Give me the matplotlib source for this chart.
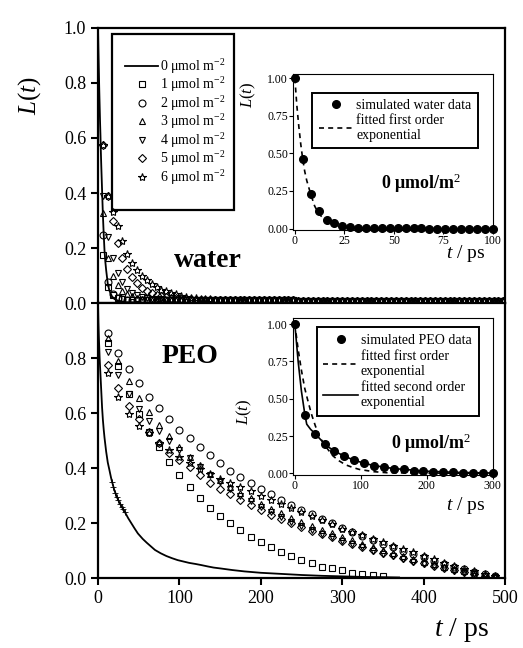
import numpy as np
import matplotlib
matplotlib.use('Agg')
import matplotlib.pyplot as plt
from matplotlib.patches import Rectangle

plt.rcParams['font.family'] = ['Liberation Serif', 'DejaVu Serif']
plt.rcParams['mathtext.fontset'] = 'custom'
plt.rcParams['mathtext.rm'] = 'Liberation Serif'
plt.rcParams['mathtext.it'] = 'Liberation Serif:italic'
plt.rcParams['mathtext.bf'] = 'Liberation Serif:bold'

# ---------------- data ----------------
labels = ['0 μmol m$^{-2}$', '1 μmol m$^{-2}$', '2 μmol m$^{-2}$', '3 μmol m$^{-2}$',
          '4 μmol m$^{-2}$', '5 μmol m$^{-2}$', '6 μmol m$^{-2}$']
markers = ['s', 'o', '^', 'v', 'D', '*']
msizes = [4.5, 5, 5, 5, 4.2, 6]

# water, 0 umol (solid line)
water0_t = [0, 0.5, 1, 1.5, 2, 2.5, 3, 3.5, 4, 5, 6, 7, 8, 9, 10, 12, 14, 17, 20,
            25, 35, 60, 150, 500]
water0_L = [1.0, 0.92, 0.85, 0.78, 0.72, 0.66, 0.61, 0.55, 0.50, 0.41, 0.32, 0.25,
            0.19, 0.15, 0.12, 0.07, 0.045, 0.025, 0.015, 0.008, 0.003, 0.001, 0.0, 0.0]

# water, 1-6 umol (markers every 6 ps)
water_t = np.arange(6, 500, 6)
water_base = [
    0.010, 0.010, 0.010, 0.010, 0.010, 0.010, 0.010, 0.010, 0.010, 0.010,
    0.010, 0.010, 0.010, 0.010, 0.010, 0.010, 0.010, 0.010, 0.010, 0.010,
    0.010, 0.010, 0.010, 0.010, 0.010, 0.010, 0.010, 0.010, 0.010, 0.010,
    0.010, 0.010, 0.010, 0.010, 0.010, 0.010, 0.010, 0.010, 0.010, 0.010,
    0.009, 0.009, 0.009, 0.009, 0.009, 0.009, 0.009, 0.009, 0.009, 0.009,
    0.009, 0.009, 0.009, 0.009, 0.009, 0.009, 0.009, 0.009, 0.009, 0.009,
    0.008, 0.008, 0.008, 0.008, 0.008, 0.008, 0.008, 0.008, 0.008, 0.008,
    0.008, 0.008, 0.008, 0.008, 0.008, 0.008, 0.008, 0.008, 0.008, 0.008,
    0.008, 0.008, 0.008]
water_heads = [
    [0.175, 0.060, 0.030, 0.018, 0.013, 0.011],
    [0.248, 0.077, 0.032, 0.018, 0.013, 0.011],
    [0.326, 0.165, 0.100, 0.065, 0.045, 0.032, 0.024, 0.019, 0.016, 0.014, 0.012, 0.011],
    [0.390, 0.240, 0.165, 0.110, 0.075, 0.052, 0.038, 0.029, 0.023, 0.019, 0.016,
     0.014, 0.013, 0.012, 0.011],
    [0.575, 0.390, 0.300, 0.220, 0.165, 0.125, 0.095, 0.072, 0.056, 0.045, 0.037,
     0.030, 0.026, 0.022, 0.019, 0.017, 0.015, 0.014, 0.013, 0.012, 0.011],
    [0.575, 0.390, 0.330, 0.280, 0.225, 0.180, 0.145, 0.120, 0.100, 0.084, 0.070,
     0.058, 0.049, 0.042, 0.036, 0.031, 0.027, 0.023, 0.020, 0.018, 0.016, 0.014,
     0.013, 0.012, 0.011],
]

# PEO, 0 umol (solid line)
peo0_t = [0, 0.5, 1, 1.5, 2, 3, 4, 5, 6, 7, 8, 9, 10, 12, 14, 16, 18, 20, 23, 26,
          30, 33, 37, 41, 45, 49, 55, 60, 65, 70, 77, 84, 91, 98, 105, 112, 120,
          127, 135, 142, 150, 165, 180, 200, 225, 250, 275, 300, 325, 350, 370]
peo0_L = [1.0, 0.93, 0.88, 0.84, 0.80, 0.74, 0.68, 0.62, 0.575, 0.54, 0.51, 0.485,
          0.46, 0.42, 0.393, 0.365, 0.342, 0.32, 0.296, 0.276, 0.255, 0.24, 0.218,
          0.199, 0.18, 0.162, 0.142, 0.128, 0.115, 0.102, 0.09, 0.08, 0.072, 0.065,
          0.06, 0.055, 0.051, 0.047, 0.042, 0.038, 0.035, 0.029, 0.024, 0.019,
          0.015, 0.011, 0.008, 0.006, 0.004, 0.003, 0.002]
# noisy stretch drawn with small crosses on the 0 umol PEO curve
peo0_mark_t = [17, 19, 21, 23, 25, 27, 29, 31, 33]
peo0_mark_L = [0.35, 0.33, 0.31, 0.296, 0.283, 0.27, 0.26, 0.25, 0.24]

# PEO, 1-6 umol (markers every 12.5 ps)
peo_t = np.arange(1, 40) * 12.5
peo1 = [0.856, 0.77, 0.67, 0.596, 0.53, 0.475, 0.423, 0.375, 0.332, 0.292,
        0.256, 0.227, 0.199, 0.175, 0.15, 0.131, 0.114, 0.096, 0.08, 0.065,
        0.053, 0.041, 0.035, 0.028, 0.018, 0.013, 0.01, 0.007]
peo2 = [0.89, 0.82, 0.76, 0.708, 0.66, 0.617, 0.577, 0.54, 0.508, 0.476,
        0.447, 0.418, 0.39, 0.367, 0.345, 0.325, 0.305, 0.285, 0.266, 0.248,
        0.231, 0.215, 0.199, 0.183, 0.168, 0.153, 0.139, 0.125, 0.112, 0.099,
        0.087, 0.075, 0.063, 0.052, 0.041, 0.031, 0.022, 0.013, 0.006]
peo3 = [0.872, 0.79, 0.715, 0.655, 0.605, 0.555, 0.515, 0.475, 0.44, 0.41,
        0.38, 0.355, 0.33, 0.31, 0.29, 0.27, 0.25, 0.235, 0.22, 0.205,
        0.19, 0.175, 0.162, 0.15, 0.137, 0.125, 0.113, 0.102, 0.091, 0.08,
        0.07, 0.06, 0.05, 0.041, 0.032, 0.024, 0.016, 0.009, 0.004]
peo4 = [0.823, 0.738, 0.67, 0.615, 0.57, 0.535, 0.50, 0.465, 0.435, 0.405,
        0.375, 0.35, 0.325, 0.30, 0.28, 0.26, 0.24, 0.222, 0.205, 0.19,
        0.175, 0.161, 0.148, 0.135, 0.123, 0.111, 0.10, 0.089, 0.079, 0.069,
        0.06, 0.051, 0.043, 0.035, 0.027, 0.02, 0.013, 0.008, 0.004]
peo5 = [0.775, 0.69, 0.625, 0.577, 0.53, 0.49, 0.455, 0.43, 0.405, 0.375,
        0.345, 0.325, 0.305, 0.285, 0.265, 0.247, 0.23, 0.215, 0.20, 0.185,
        0.172, 0.16, 0.148, 0.136, 0.125, 0.113, 0.102, 0.092, 0.082, 0.072,
        0.062, 0.053, 0.044, 0.036, 0.028, 0.021, 0.014, 0.008, 0.004]
peo6 = [0.744, 0.657, 0.595, 0.553, 0.526, 0.492, 0.465, 0.441, 0.417, 0.398,
        0.38, 0.36, 0.345, 0.33, 0.315, 0.30, 0.285, 0.27, 0.255, 0.24,
        0.225, 0.21, 0.195, 0.18, 0.168, 0.155, 0.142, 0.13, 0.118, 0.105,
        0.093, 0.08, 0.068, 0.056, 0.045, 0.034, 0.024, 0.015, 0.008]
peo_series = [peo1, peo2, peo3, peo4, peo5, peo6]

# insets, 0 umol
win_t = np.arange(0, 101, 4)
win_L = [1.0, 0.46, 0.23, 0.115, 0.06, 0.035, 0.015, 0.007, 0.004, 0.003, 0.002,
         0.002, 0.001, 0.001, 0.001, 0.001, 0.001, 0.0, 0.0, 0.0, 0.0, 0.0, 0.0,
         0.0, 0.0, 0.0]
win_fit_t = [0, 1, 2, 3, 4, 5, 6, 8, 10, 12, 15, 20, 25, 30, 40, 100]
win_fit_L = [1.0, 0.82, 0.68, 0.56, 0.46, 0.38, 0.32, 0.23, 0.15, 0.10, 0.06, 0.025,
             0.01, 0.004, 0.001, 0.0]

pin_t = np.arange(0, 301, 15)
pin_L = [1.0, 0.39, 0.265, 0.198, 0.149, 0.116, 0.089, 0.069, 0.053, 0.042, 0.033,
         0.027, 0.02, 0.016, 0.012, 0.01, 0.008, 0.006, 0.005, 0.004, 0.003]
pin_fit1_t = [0, 5, 10, 15, 19, 25, 31, 37, 45, 58, 67, 77, 88, 98, 120, 140, 300]
pin_fit1_L = [1.0, 0.83, 0.69, 0.57, 0.50, 0.40, 0.32, 0.25, 0.19, 0.117, 0.085,
              0.058, 0.04, 0.027, 0.012, 0.005, 0.0]
pin_fit2_t = [0, 5, 10, 15, 18, 24, 30, 38, 45, 52, 60, 75, 90, 105, 120, 150, 200,
              250, 300]
pin_fit2_L = [1.0, 0.75, 0.55, 0.40, 0.33, 0.295, 0.27, 0.232, 0.20, 0.174, 0.15,
              0.116, 0.089, 0.069, 0.053, 0.033, 0.015, 0.007, 0.003]

# ---------------- figure ----------------
fig = plt.figure(figsize=(5.23, 6.48), dpi=100)
ax_w = fig.add_axes([0.1874, 0.5324, 0.778, 0.4244])
ax_p = fig.add_axes([0.1874, 0.108, 0.778, 0.4244])

for ax in (ax_w, ax_p):
    ax.set_xlim(0, 500)
    ax.set_ylim(0, 1.0)
    for s in ax.spines.values():
        s.set_linewidth(1.6)
    ax.tick_params(direction='out', length=5, width=1.5, labelsize=13,
                   top=False, right=False)

ax_w.set_yticks([0.0, 0.2, 0.4, 0.6, 0.8, 1.0])
ax_w.set_yticklabels(['0.0', '0.2', '0.4', '0.6', '0.8', '1.0'])
ax_w.tick_params(axis='x', bottom=False, labelbottom=False)
ax_p.set_yticks([0.0, 0.2, 0.4, 0.6, 0.8])
ax_p.set_yticklabels(['0.0', '0.2', '0.4', '0.6', '0.8'])
ax_p.set_xticks([0, 100, 200, 300, 400, 500])

handles = []
h, = ax_w.plot(water0_t, water0_L, color='black', lw=1.3)
handles.append(h)
for head, m, ms in zip(water_heads, markers, msizes):
    vals = head + water_base[len(head):]
    h, = ax_w.plot(water_t, vals, ls='none', marker=m, ms=ms, mfc='none',
                   mec='black', mew=0.8)
    handles.append(h)

ax_p.plot(peo0_t, peo0_L, color='black', lw=1.3)
ax_p.plot(peo0_mark_t, peo0_mark_L, ls='none', marker='+', ms=5, mew=0.6,
          color='black')
for vals, m, ms in zip(peo_series, markers, msizes):
    ax_p.plot(peo_t[:len(vals)], vals, ls='none', marker=m, ms=ms, mfc='none',
              mec='black', mew=0.8)

leg = ax_w.legend(handles, labels, loc='upper left', bbox_to_anchor=(0.066, 0.895),
                  frameon=False, fontsize=10, borderpad=0, borderaxespad=0,
                  handlelength=2.4, handletextpad=0.15, labelspacing=-0.03)
ax_w.add_patch(Rectangle((0.034, 0.338), 0.30, 0.64, transform=ax_w.transAxes,
                         fill=False, lw=1.6, ec='black', zorder=5))

ax_w.text(0.27, 0.156, 'water', transform=ax_w.transAxes, fontsize=20,
          fontweight='bold', ha='center', va='center')
ax_p.text(0.226, 0.804, 'PEO', transform=ax_p.transAxes, fontsize=20,
          fontweight='bold', ha='center', va='center')

fig.text(0.057, 0.853, r'$L(t)$', rotation=90, fontsize=18, ha='center', va='center')
fig.text(0.883, 0.028, r'$t$ / ps', fontsize=20, ha='center', va='center')

# ---------------- insets ----------------
in_w = fig.add_axes([0.560, 0.645, 0.382, 0.241])
in_p = fig.add_axes([0.560, 0.267, 0.382, 0.242])
for ax in (in_w, in_p):
    for s in ax.spines.values():
        s.set_linewidth(0.8)
    ax.tick_params(direction='out', length=3, width=0.8, labelsize=8.5, pad=0.5)
    ax.set_yticks([0.0, 0.25, 0.5, 0.75, 1.0])
    ax.set_yticklabels(['0.00', '0.25', '0.50', '0.75', '1.00'])

in_w.set_xlim(-1, 100)
in_w.set_ylim(-0.01, 1.03)
in_w.set_xticks([0, 25, 50, 75, 100])
in_w.plot(win_fit_t, win_fit_L, color='black', ls=(0, (3, 2.5)), lw=1.2,
          label='fitted first order\nexponential')
in_w.plot(win_t, win_L, ls='none', marker='o', ms=5.5, color='black',
          label='simulated water data', clip_on=False)
hh, ll = in_w.get_legend_handles_labels()
lg = in_w.legend([hh[1], hh[0]], [ll[1], ll[0]], loc='upper right',
                 bbox_to_anchor=(0.925, 0.878), borderaxespad=0, fontsize=10,
                 fancybox=False, edgecolor='black', framealpha=1, borderpad=0.45,
                 handlelength=2.5, handletextpad=0.2, labelspacing=0.1)
lg.get_frame().set_linewidth(1.4)
in_w.text(0.64, 0.30, '0 μmol/m$^{2}$', transform=in_w.transAxes, fontsize=13,
          fontweight='bold', ha='center', va='center')

in_p.set_xlim(-3, 300)
in_p.set_ylim(-0.01, 1.04)
in_p.set_xticks([0, 100, 200, 300])
in_p.plot(pin_t, pin_L, ls='none', marker='o', ms=5.5, color='black',
          label='simulated PEO data', clip_on=False)
in_p.plot(pin_fit1_t, pin_fit1_L, color='black', ls=(0, (3, 2.5)), lw=1.2,
          label='fitted first order\nexponential')
in_p.plot(pin_fit2_t, pin_fit2_L, color='black', lw=1.2,
          label='fitted second order\nexponential')
lg2 = in_p.legend(loc='upper right', bbox_to_anchor=(0.93, 0.943), borderaxespad=0,
                  fontsize=10, fancybox=False, edgecolor='black', framealpha=1,
                  borderpad=0.5, handlelength=2.5, handletextpad=0.2,
                  labelspacing=0.2)
lg2.get_frame().set_linewidth(1.4)
in_p.text(0.69, 0.204, '0 μmol/m$^{2}$', transform=in_p.transAxes, fontsize=13,
          fontweight='bold', ha='center', va='center')

fig.text(248 / 523, 1 - 95 / 648, r'$L(t)$', rotation=90, fontsize=12,
         ha='center', va='center')
fig.text(244 / 523, 1 - 412 / 648, r'$L(t)$', rotation=90, fontsize=12,
         ha='center', va='center')
fig.text(466 / 523, 1 - 254 / 648, r'$t$ / ps', fontsize=14, ha='center', va='center')
fig.text(466 / 523, 1 - 506 / 648, r'$t$ / ps', fontsize=14, ha='center', va='center')

fig.savefig('out.png', dpi=100)
